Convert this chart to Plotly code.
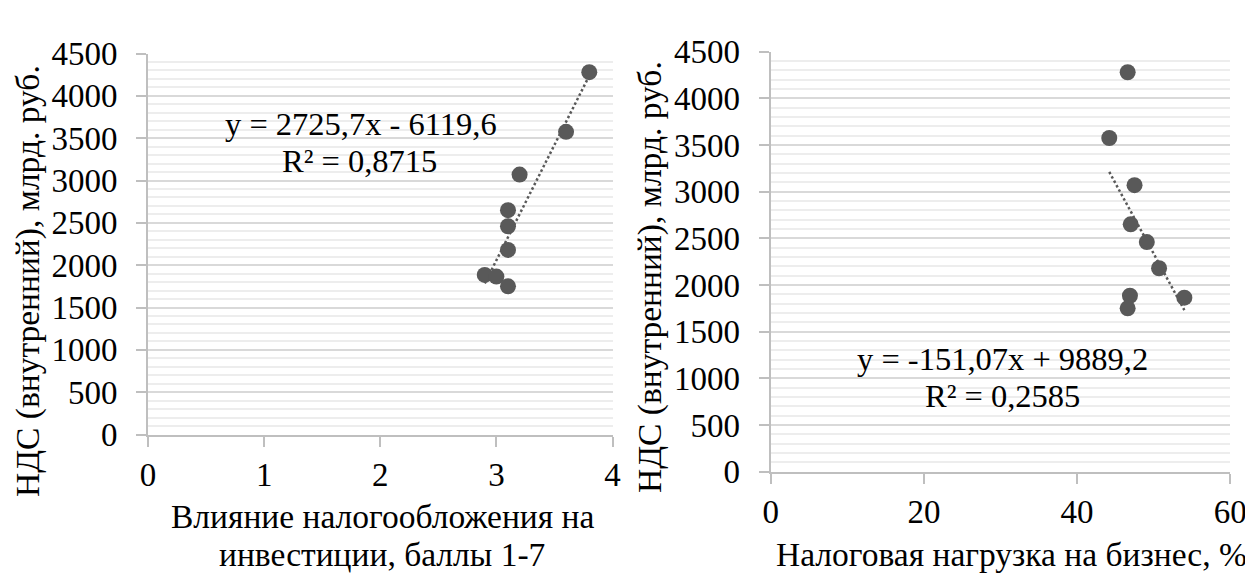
import plotly.graph_objects as go

# ---- data ----
vat_bn_rub = [4280, 3575, 3070, 2650, 2460, 2180, 1885, 1865, 1750]
tax_impact_score = [3.8, 3.6, 3.2, 3.1, 3.1, 3.1, 2.9, 3.0, 3.1]
tax_burden_pct = [46.6, 44.2, 47.5, 47.0, 49.1, 50.7, 46.9, 54.0, 46.6]

trend_left = [2725.7, -6119.6]     # slope, intercept
trend_right = [-151.07, 9889.2]

eq_left = ["y = 2725,7x - 6119,6", "R² = 0,8715"]
eq_right = ["y = -151,07x + 9889,2", "R² = 0,2585"]

y_title = "НДС (внутренний), млрд. руб."
x_title_left = ["Влияние налогообложения на", "инвестиции, баллы 1-7"]
x_title_right = "Налоговая нагрузка на бизнес, %"

x_ticks_left = [0, 1, 2, 3, 4]
x_ticks_right = [0, 20, 40, 60]
y_ticks = [0, 500, 1000, 1500, 2000, 2500, 3000, 3500, 4000, 4500]

# ---- styling ----
PAGE_W, PAGE_H = 1253, 574
OFF = 8                      # default page body margin
W, H = PAGE_W - OFF, PAGE_H - OFF
FONT = "Liberation Serif, Times New Roman, Tinos, DejaVu Serif, serif"
FS_TICK = 33
FS_EQ = 32.5
FS_TITLE = 33.5
PT = "#595959"
AX = "#BFBFBF"


def px(x):
    return (x - OFF) / W


def py(y):
    return 1 - (y - OFF) / H


def trend(xs, coef):
    xe = [min(xs), max(xs)]
    return xe, [coef[0] * v + coef[1] for v in xe]


fig = go.Figure()

for xs, coef, xa, ya in [(tax_impact_score, trend_left, "x", "y"),
                         (tax_burden_pct, trend_right, "x2", "y2")]:
    tx, ty = trend(xs, coef)
    fig.add_trace(go.Scatter(x=tx, y=ty, mode="lines", xaxis=xa, yaxis=ya,
                             line=dict(color=PT, width=2.5, dash="2.5px,2.5px"),
                             showlegend=False, hoverinfo="skip"))
    fig.add_trace(go.Scatter(x=xs, y=vat_bn_rub, mode="markers", xaxis=xa, yaxis=ya,
                             marker=dict(color=PT, size=16, line=dict(width=0)),
                             showlegend=False))

tickfont = dict(family=FONT, size=FS_TICK, color="black")
common_x = dict(showline=True, linecolor=AX, linewidth=2, ticks="outside", ticklen=10,
                tickcolor=AX, tickwidth=2, showgrid=False, zeroline=False, automargin=False,
                tickfont=tickfont, fixedrange=True)
common_y = dict(showline=True, linecolor=AX, linewidth=2, ticks="outside", ticklen=10,
                tickcolor=AX, tickwidth=2, showgrid=True, gridcolor="#D9D9D9", gridwidth=1.5,
                zeroline=False, tickvals=y_ticks, range=[0, 4500], automargin=False,
                ticklabelstandoff=12,
                minor=dict(dtick=100, showgrid=True, gridcolor="#EDEDED", gridwidth=1.5,
                           ticks=""),
                tickfont=tickfont, fixedrange=True)

fig.update_layout(
    template="none",
    width=W, height=H,
    margin=dict(l=0, r=0, t=0, b=0, autoexpand=False),
    paper_bgcolor="white", plot_bgcolor="white",
    font=dict(family=FONT, size=FS_TICK, color="black"),
    xaxis=dict(domain=[px(148), px(612.5)], range=[0, 4], tickvals=x_ticks_left,
               anchor="y", **common_x),
    yaxis=dict(domain=[py(434.5), py(53.5)], anchor="x", **common_y),
    xaxis2=dict(domain=[px(770.7), px(1230.3)], range=[0, 60], tickvals=x_ticks_right,
                anchor="y2", **common_x),
    yaxis2=dict(domain=[py(471.7), py(51.7)], anchor="x2", **common_y),
)

ann = []


def add_text(text, x, y, size, angle=0):
    ann.append(dict(text=text, x=px(x), y=py(y), xref="paper", yref="paper",
                    xanchor="center", yanchor="middle", showarrow=False, textangle=angle,
                    font=dict(family=FONT, size=size, color="black")))


add_text(eq_left[0], 361, 124, FS_EQ)
add_text(eq_left[1], 360, 161, FS_EQ)
add_text(eq_right[0], 1002, 359, FS_EQ)
add_text(eq_right[1], 1003, 396, FS_EQ)
add_text(y_title, 28, 281, FS_TITLE, -90)
add_text(y_title, 650, 277, FS_TITLE, -90)
add_text(x_title_left[0], 382, 516, FS_TITLE)
add_text(x_title_left[1], 382, 554, FS_TITLE)
add_text(x_title_right, 1012, 554, FS_TITLE)

fig.update_layout(annotations=ann)

fig.write_html("out.html")
